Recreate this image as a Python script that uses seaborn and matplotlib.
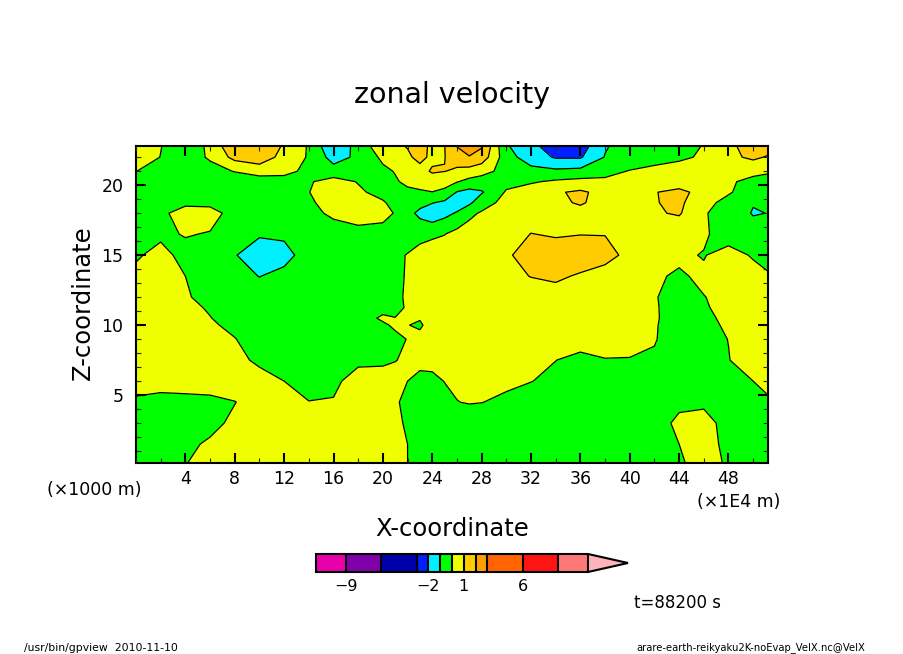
import numpy as np
import matplotlib
matplotlib.use("Agg")
import matplotlib.pyplot as plt
from matplotlib.ticker import MultipleLocator
import seaborn as sns

x_km = [0, 2, 4, 6, 8, 10, 12, 14, 16, 18, 20, 21, 22, 23, 24, 25, 26, 27, 28, 30, 32, 34, 36, 38, 40, 42, 44, 46, 48, 50, 51.2]
z_km = [0.15, 1.5, 3, 4.5, 6, 7.5, 9, 10, 10.5, 11.25, 12, 13.5, 15, 16.5, 18, 18.75, 19.5, 20.25, 21, 22, 22.8]

u_00 = [-.4,-.3,-.02,.2,.4,.5,.55,.55,.5,.4,.2,.1,0,-.25,-.5,-.55,-.6,-.6,-.6,-.6,-.6,-.6,-.6,-.6,-.5,-.3,-.1,.3,-.1,-.3,-.3]
u_01 = [-.5,-.4,-.15,.1,.4,.5,.55,.55,.5,.45,.2,.1,0,-.25,-.5,-.55,-.6,-.65,-.7,-.7,-.7,-.7,-.7,-.7,-.5,-.2,0,.3,-.2,-.4,-.4]
u_02 = [-.5,-.6,-.5,-.2,.15,.4,.5,.5,.5,.45,.2,.08,-.05,-.3,-.5,-.55,-.6,-.6,-.6,-.7,-.7,-.8,-.8,-.8,-.6,-.2,.1,.2,-.2,-.4,-.4]
u_03 = [-.2,-.5,-.4,-.25,-.02,.3,.2,.03,.03,.25,.2,.05,-.1,-.3,-.5,-.25,-.02,.06,.02,-.2,-.4,-.5,-.6,-.7,-.7,-.5,-.1,-.1,-.5,-.5,-.05]
u_04 = [.5,.6,.6,.5,.4,.2,0,-.5,-.1,.2,.25,.12,0,-.15,-.2,.02,.15,.2,.25,.2,.02,-.2,-.35,-.4,-.45,-.5,-.5,-.5,-.3,0,.1]
u_05 = [.7,.7,.6,.4,.15,-.1,-.4,-.5,-.4,-.1,-.1,-.01,.05,.15,.25,.3,.3,.35,.35,.3,.2,.01,-.25,-.03,-.03,-.1,-.4,-.4,-.02,.3,.4]
u_06 = [.7,.7,.55,.3,.03,-.4,-.6,-.6,-.55,-.5,-.3,-.15,.02,.2,.3,.4,.5,.55,.55,.55,.5,.45,.4,.3,.2,.05,-.4,-.2,.01,.25,.35]
u_07 = [.65,.65,.45,.12,-.2,-.45,-.55,-.55,-.5,-.35,-.1,.1,.02,-.1,.3,.45,.52,.55,.58,.58,.55,.5,.45,.4,.25,.07,-.4,-.15,.08,.3,.4]
u_08 = [.6,.6,.4,.03,-.4,-.5,-.55,-.55,-.5,-.3,.1,.01,.1,.05,.4,.5,.55,.58,.6,.6,.6,.6,.55,.45,.3,.1,-.4,-.1,.1,.4,.45]
u_09 = [.55,.55,.25,-.1,-.45,-.55,-.57,-.55,-.5,-.38,-.2,-.12,.05,.2,.35,.42,.5,.55,.58,.6,.62,.62,.58,.48,.3,.08,-.35,-.05,.15,.4,.42]
u_10 = [.5,.5,.1,-.3,-.5,-.6,-.6,-.55,-.5,-.4,-.2,-.08,.05,.18,.3,.38,.45,.5,.55,.6,.65,.65,.6,.5,.3,.05,-.3,-.02,.2,.4,.4]
u_11 = [.2,.4,0,-.4,-.7,-1.02,-.75,-.6,-.5,-.4,-.2,-.08,.03,.18,.3,.4,.5,.58,.65,.8,1.02,1.15,.9,.7,.5,.1,-.1,.15,.35,.35,.03]
u_12 = [-.1,.25,-.25,-.7,-.95,-1.5,-1.3,-.6,-.5,-.4,-.2,-.08,.02,.17,.3,.4,.5,.6,.7,.9,1.3,1.4,1.5,1.25,.8,.5,.15,-.05,.4,-.1,-.1]
u_13 = [-.5,-.15,.05,-.05,-.6,-.9,-.85,-.6,-.5,-.4,-.3,-.25,-.2,-.15,-.1,-.02,.3,.4,.45,.6,1.02,.92,.98,.98,.7,.6,.3,.15,-.5,-.6,-.5]
u_14 = [-.2,-.2,.4,.3,-.3,-.6,-.7,-.3,.2,.55,.25,-.05,-.6,-1.3,-1.7,-1.3,-.9,-.2,.1,.45,.6,.65,.7,.6,.6,.9,1.1,.1,-.5,-1.06,-.985]
u_15 = [-.4,-.6,-.2,-.2,-.6,-.6,-.55,-.15,.4,.45,.1,-.3,-.5,-.6,-.95,-1.2,-1.6,-1.2,-.4,.3,.55,.8,1.1,.65,.65,.95,1.2,.3,-.3,-.95,-.8]
u_16 = [-.4,-.7,-.7,-.7,-.6,-.5,-.3,-.02,.5,.15,-.3,-.3,-.2,-.1,-.02,-.15,-1.05,-1.3,-1.1,.1,.45,.9,1.15,.7,.7,.95,1.3,.6,.1,-.5,-.7]
u_17 = [-.7,-.8,-.8,-.8,-.7,-.6,-.5,-.1,.4,-.05,-.5,-.1,.2,.3,.55,.25,.05,-.3,-.4,-.3,-.1,.15,.3,.2,.2,.3,.4,.4,.1,-.2,-.3]
u_18 = [.02,-.5,-.7,-.4,.05,.5,.35,-.3,-.6,-.5,-.2,.05,.25,.7,1.1,1.02,.85,.6,.3,-.3,-.7,-.8,-.7,-.3,.05,.35,.5,.55,.4,.2,.1]
u_19 = [.5,-.02,-.6,.15,1.3,1.5,.7,-.1,-1.4,-.8,.2,.55,.85,1.25,.8,.98,1.4,1.95,1.6,-.6,-1.5,-2.1,-2.1,-.95,-.6,-.5,-.2,.15,.75,1.2,.9]
u_20 = [.6,.03,-.6,.2,1.9,1.7,.9,-.1,-1.9,-.6,.65,.85,1.05,1.4,.75,.98,2.05,2.4,2.1,-.9,-1.7,-2.6,-2.5,-1.1,-.5,-.6,-.4,.05,.8,1.4,1.5]

levels = [-11.5, -9, -6, -3, -2, -1, 0, 1, 2, 3, 6, 9, 11.5]
band_colors = ["#e800aa", "#8000aa", "#0000aa", "#0020ff", "#00f0ff", "#00ff00",
               "#f0ff00", "#ffcc00", "#ffa000", "#ff6400", "#ff1414", "#ff7878"]
over_color = "#ffb4bc"
bar_ticks = [-9, -2, 1, 6]
x_ticks = list(range(4, 52, 4))
z_ticks = [5, 10, 15, 20]

sns.set_theme(style="ticks", rc={"font.family": ["DejaVu Sans"]})
W, H = 904, 654
fig = plt.figure(figsize=(W / 100, H / 100), dpi=100, facecolor="white")


def fx(px):
    return px / W


def fy(py):
    return 1 - py / H


ax = fig.add_axes([fx(136), fy(463), (768 - 136) / W, (463 - 146) / H])
field = np.array([u_00, u_01, u_02, u_03, u_04, u_05, u_06, u_07, u_08, u_09, u_10,
                  u_11, u_12, u_13, u_14, u_15, u_16, u_17, u_18, u_19, u_20])
palette = sns.color_palette(band_colors)
cf = ax.contourf(x_km, z_km, field, levels=levels, colors=palette, extend="max", antialiased=False)
cf.cmap.set_over(over_color)
ax.contour(x_km, z_km, field, levels=levels, colors="black", linewidths=0.9, linestyles="solid")

ax.set_axisbelow(False)
ax.set_xlim(0, 51.2)
ax.set_ylim(0.15, 22.8)
ax.set_xticks(x_ticks)
ax.set_yticks(z_ticks)
ax.xaxis.set_minor_locator(MultipleLocator(2))
ax.yaxis.set_minor_locator(MultipleLocator(1))
ax.tick_params(which="major", direction="in", length=7.5, width=1.5, top=True, right=True,
               labelsize=12.5, colors="black")
ax.tick_params(which="minor", direction="in", length=3.6, width=0.8, top=True, right=True)
ax.tick_params(axis="x", which="major", pad=5)
ax.tick_params(axis="y", which="major", pad=9)
for s in ax.spines.values():
    s.set_linewidth(1.5)
    s.set_color("black")
sns.despine(ax=ax, top=False, right=False)

ax.set_title("zonal velocity", fontsize=20.5, pad=31, color="black")
ax.set_xlabel("X-coordinate", fontsize=17.5, color="black")
ax.xaxis.set_label_coords(fx(452), fy(529), transform=fig.transFigure)
ax.xaxis.label.set_verticalalignment("center")
ax.set_ylabel("Z-coordinate", fontsize=17.5, color="black")
ax.yaxis.set_label_coords(fx(83), fy(303), transform=fig.transFigure)
ax.yaxis.label.set_verticalalignment("center")

fig.text(fx(47), fy(490), "(×1000 m)", fontsize=12.5, va="center", ha="left", color="black")
fig.text(fx(697), fy(502), "(×1E4 m)", fontsize=12.5, va="center", ha="left", color="black")
fig.text(fx(634), fy(603), "t=88200 s", fontsize=12, va="center", ha="left", color="black")
fig.text(fx(24), fy(648), "/usr/bin/gpview  2010-11-10", fontsize=7.8, va="center", ha="left", color="black")
fig.text(fx(636), fy(648), "arare-earth-reikyaku2K-noEvap_VelX.nc@VelX", fontsize=7.2, va="center", ha="left", color="black")

cax = fig.add_axes([fx(316), fy(572), (628 - 316) / W, (572 - 554) / H])
cb = fig.colorbar(cf, cax=cax, orientation="horizontal", spacing="proportional",
                  extendfrac=40 / 272, drawedges=True, ticks=bar_ticks)
cb.ax.tick_params(length=0, labelsize=11.5, pad=5, colors="black")
cb.ax.minorticks_off()
cb.outline.set_linewidth(1.5)
cb.outline.set_edgecolor("black")
cb.dividers.set_linewidth(1.5)
cb.dividers.set_color("black")

fig.savefig("out.png", dpi=100, facecolor="white")
